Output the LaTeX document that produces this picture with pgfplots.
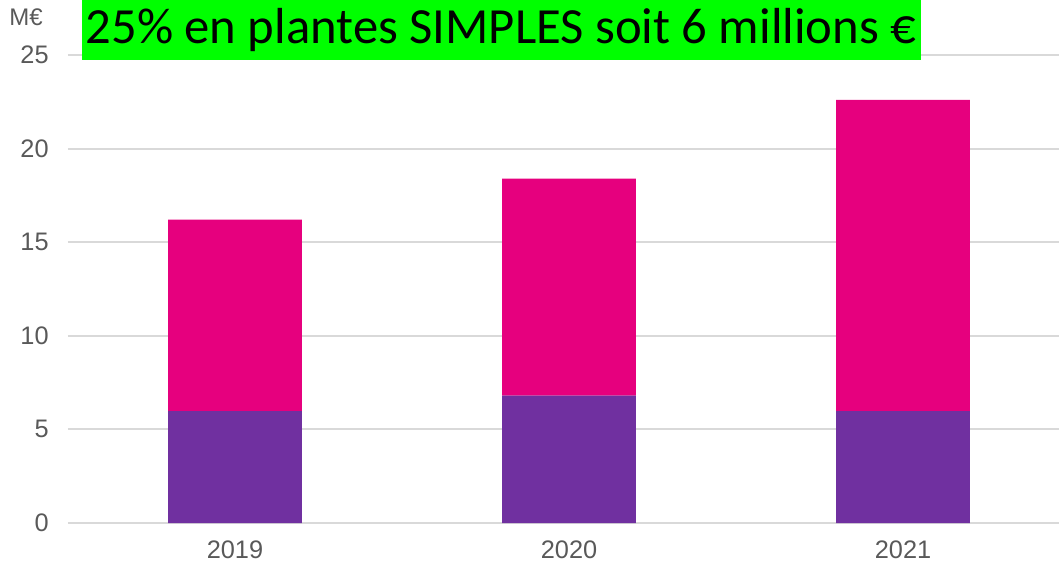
\documentclass[border=0pt]{standalone}
\usepackage{fontspec}
\setmainfont{Liberation Sans}
\newfontfamily\titlefont{Carlito}
\usepackage{pgfplots}
\pgfplotsset{compat=1.18}

\definecolor{cpurple}{HTML}{7030A0}
\definecolor{cmagenta}{HTML}{E6007E}
\definecolor{gridgray}{HTML}{D9D9D9}
\definecolor{labelgray}{HTML}{595959}
\definecolor{titlegreen}{HTML}{00FF00}

\begin{document}
\begin{tikzpicture}
% 1 px of the reference = 0.75pt
\path[use as bounding box] (-51pt,-30.75pt) rectangle (743.25pt,392.25pt);
\begin{axis}[
    at={(0,0)}, anchor=south west,
    scale only axis,
    width=743.25pt, height=351pt,
    ybar stacked,
    bar width=0.4,
    xmin=-0.5, xmax=2.467,
    ymin=0, ymax=25,
    xtick={0,1,2},
    xticklabels={2019,2020,2021},
    ytick={0,5,...,25},
    axis line style={draw=none},
    major tick length=0pt,
    tick style={draw=none},
    ymajorgrids,
    grid style={draw=gridgray, line width=1.5pt},
    tick label style={font=\fontsize{19}{21}\selectfont, text=labelgray},
    /pgf/number format/assume math mode=true,
    yticklabel style={xshift=-11pt},
    xticklabel style={yshift=-10pt},
    clip=false,
]
\addplot+[draw=none, fill=cpurple] coordinates {(0,5.97) (1,6.8) (2,5.97)};
\addplot+[draw=none, fill=cmagenta] coordinates {(0,10.23) (1,11.6) (2,16.63)};
\end{axis}
\node[anchor=base east, inner sep=0pt, text=labelgray, font=\fontsize{18}{20}\selectfont] at (-18.75pt,372.75pt) {M€};
\fill[titlegreen] (10.5pt,347.25pt) rectangle (639.75pt,392.25pt);
\node[anchor=base, inner sep=0pt, font=\titlefont\fontsize{38}{40}\selectfont] at (324.75pt,359.25pt) {25\% en plantes SIMPLES soit 6 millions €};
\end{tikzpicture}
\end{document}
